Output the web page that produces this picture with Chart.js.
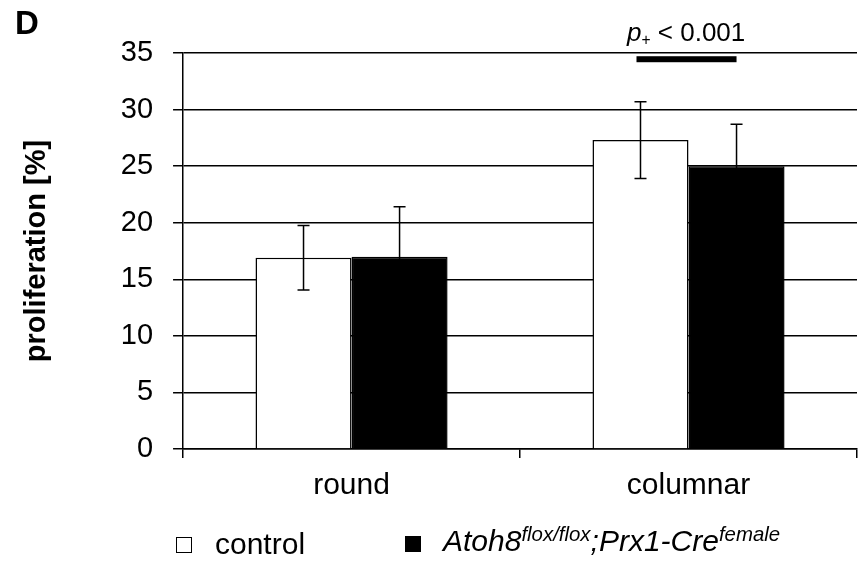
<!DOCTYPE html>
<html>
<head>
<meta charset="utf-8">
<script src="https://cdn.jsdelivr.net/npm/chart.js@4.4.1/dist/chart.umd.min.js"></script>
<style>
  body { margin: 0; background: #fff; font-family: "Liberation Sans", Arial, sans-serif; }
  #wrap { position: relative; width: 866px; height: 561px; overflow: hidden; }
  #myChart { position: absolute; left: 0; top: 0; }
  .txt { position: absolute; color: #000; white-space: nowrap; line-height: 34px; }
  .box { position: absolute; width: 14px; height: 14px; border: 1.5px solid #000; }
  sup { font-size: 68%; vertical-align: 0; position: relative; top: -0.5em; }
  sub { font-size: 60%; vertical-align: 0; position: relative; top: 0.25em; }
</style>
</head>
<body>
<div id="wrap">
  <canvas id="myChart" width="866" height="561"></canvas>
  <div class="txt" style="left:15px; top:6px; font-size:33px; font-weight:bold;">D</div>
  <div class="txt" style="left:627px; top:15px; font-size:26px;"><i>p</i><sub>+</sub> &lt; 0.001</div>
  <div class="box" style="left:176px; top:537px; background:#fff;"></div>
  <div class="txt" style="left:215px; top:527px; font-size:30px;">control</div>
  <div class="box" style="left:405px; top:536px; background:#000;"></div>
  <div class="txt" style="left:443px; top:524px; font-size:30px; font-style:italic;">Atoh8<sup>flox/flox</sup>;Prx1-Cre<sup>female</sup></div>
</div>
<script>
// data
const categories = ['round', 'columnar']
const controlValues = [16.9, 27.3]
const controlErr = [2.85, 3.4]
const atohValues = [17.0, 25.0]
const atohErr = [4.4, 3.7]
const yTicks = [0, 5, 10, 15, 20, 25, 30, 35]
const sigLevel = 34.45   // height of the significance bar

const errorBars = {
    id: 'errorBars',
    afterDatasetsDraw(chart) {
        const ctx = chart.ctx
        const y = chart.scales.y
        const errs = [controlErr, atohErr]
        ctx.save()
        ctx.strokeStyle = '#000'
        ctx.lineWidth = 1.5
        chart.data.datasets.forEach((ds, di) => {
            chart.getDatasetMeta(di).data.forEach((bar, i) => {
                const v = ds.data[i]
                const top = y.getPixelForValue(v + errs[di][i])
                const bot = y.getPixelForValue(v - errs[di][i])
                ctx.beginPath()
                ctx.moveTo(bar.x, top); ctx.lineTo(bar.x, bot)
                ctx.moveTo(bar.x - 6, top); ctx.lineTo(bar.x + 6, top)
                ctx.moveTo(bar.x - 6, bot); ctx.lineTo(bar.x + 6, bot)
                ctx.stroke()
            })
        })
        // significance bar over columnar
        const x1 = chart.getDatasetMeta(0).data[1].x
        const x2 = chart.getDatasetMeta(1).data[1].x
        ctx.fillStyle = '#000'
        ctx.fillRect(x1 - 4, y.getPixelForValue(sigLevel) - 3, x2 - x1 + 4, 6)
        ctx.restore()
    }
}

var ctx = document.getElementById('myChart')

var myChart = new Chart(ctx, {
    type: 'bar',
    data: {
        labels: categories,
        datasets: [{
            label: 'control',
            data: controlValues,
            backgroundColor: '#fff',
            borderColor: '#000',
            borderWidth: 1.5
        }, {
            label: 'Atoh8',
            data: atohValues,
            backgroundColor: '#000',
            borderColor: '#000',
            borderWidth: 1.5
        }]
    },
    options: {
        responsive: false,
        animation: false,
        layout: { padding: { left: 20, right: 9, top: 53, bottom: 47 } },
        categoryPercentage: 0.57,
        barPercentage: 1.0,
        plugins: {
            legend: { display: false },
            tooltip: { enabled: false }
        },
        scales: {
            x: {
                grid: { drawOnChartArea: false, drawTicks: true, tickLength: 9, color: '#000', lineWidth: 1.5 },
                border: { color: '#000', width: 1.5 },
                ticks: { color: '#000', font: { family: 'Liberation Sans', size: 30 }, padding: 10 }
            },
            y: {
                min: 0,
                max: 35,
                afterBuildTicks: axis => { axis.ticks = yTicks.map(v => ({ value: v })) },
                grid: { color: '#000', lineWidth: 1.5, tickLength: 10 },
                border: { color: '#000', width: 1.5 },
                ticks: { color: '#000', font: { family: 'Liberation Sans', size: 29 }, padding: 20 },
                title: {
                    display: true,
                    text: 'proliferation [%]',
                    color: '#000',
                    font: { family: 'Liberation Sans', size: 29, weight: 'bold' },
                    padding: { top: 0, bottom: 46 }
                }
            }
        }
    },
    plugins: [errorBars]
})
console.log(JSON.stringify(myChart.chartArea))
</script>
</body>
</html>
